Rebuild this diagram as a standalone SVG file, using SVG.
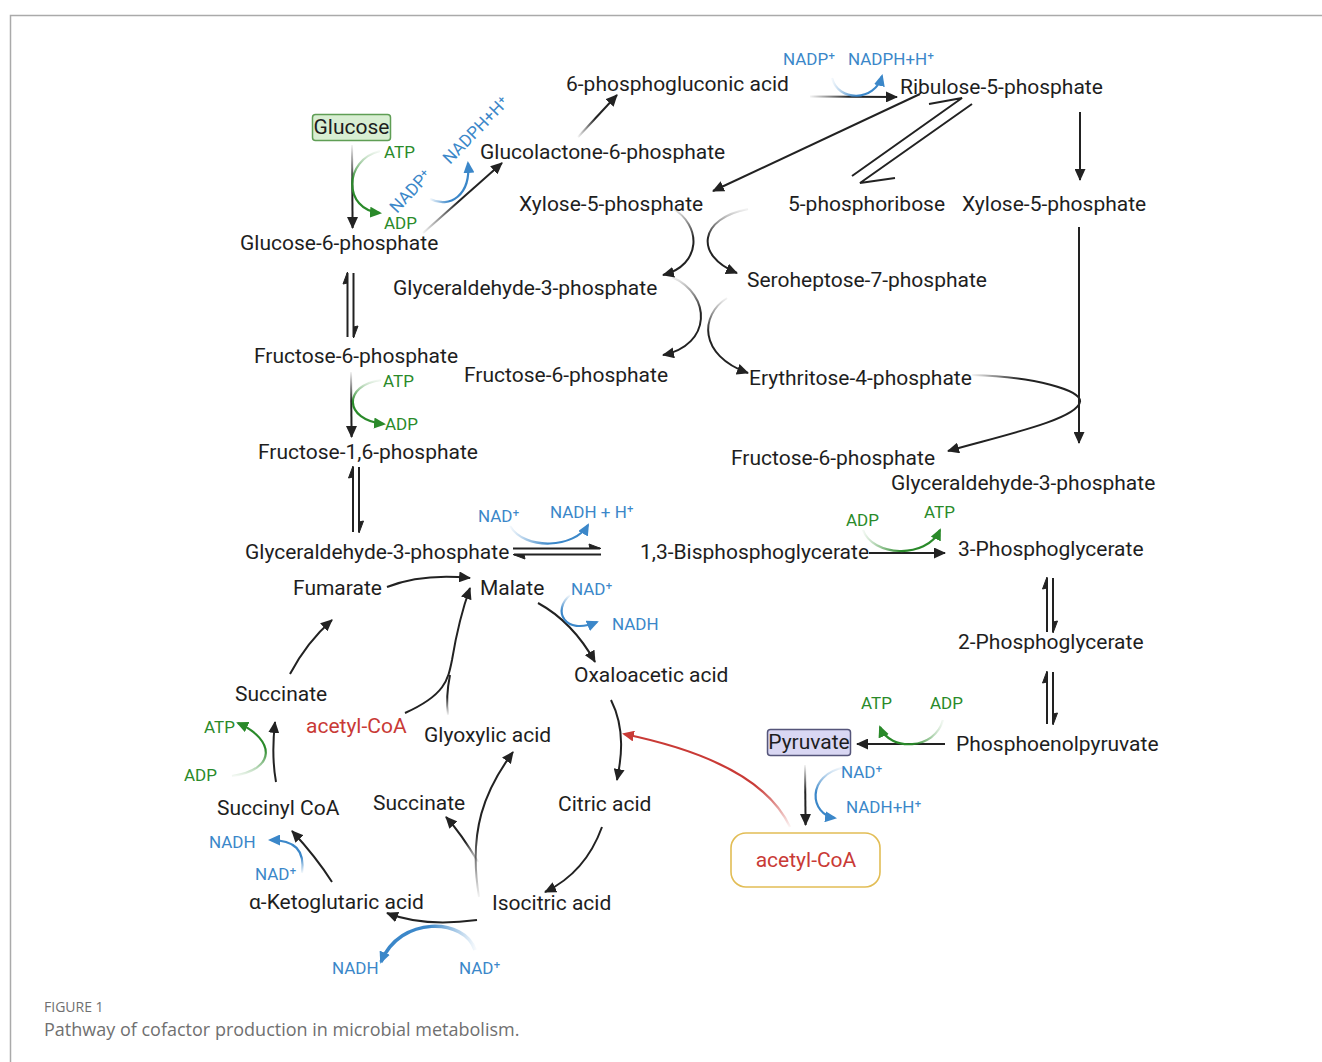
<svg xmlns="http://www.w3.org/2000/svg" width="1322" height="1062" viewBox="0 0 1322 1062">
<style>
.t{font-family:Roboto,"Liberation Sans",sans-serif;font-size:21px;fill:#1e1e1e}
.c{font-family:Roboto,"Noto Sans","DejaVu Sans",sans-serif;font-size:17px}
.g{fill:#2a8a2a}.b{fill:#3b87c9}.r{fill:#c93a36}
.k{fill:none;stroke-width:2}
.gs{fill:none;stroke-width:2.2}
.bs{fill:none;stroke-width:2.2}
.hp{fill:#222;stroke:#222;stroke-width:1}
.cap{font-family:"Open Sans","Liberation Sans",sans-serif;fill:#707070}
</style>
<defs>
<marker id="ak" markerUnits="userSpaceOnUse" markerWidth="13" markerHeight="11" refX="11" refY="5.5" orient="auto"><path d="M0,0 L12,5.5 L0,11 z" fill="#222"/></marker>
<marker id="ag" markerUnits="userSpaceOnUse" markerWidth="13" markerHeight="11" refX="10" refY="5.5" orient="auto"><path d="M0,0 L12,5.5 L0,11 z" fill="#2a8a2a"/></marker>
<marker id="ab" markerUnits="userSpaceOnUse" markerWidth="13" markerHeight="11" refX="10" refY="5.5" orient="auto"><path d="M0,0 L12,5.5 L0,11 z" fill="#3b87c9"/></marker>
<marker id="ar" markerUnits="userSpaceOnUse" markerWidth="13" markerHeight="11" refX="10" refY="5.5" orient="auto"><path d="M0,0 L12,5.5 L0,11 z" fill="#c93a36"/></marker>
<linearGradient id="kT" x1="0" y1="0" x2="0" y2="1"><stop offset="0" stop-color="#222" stop-opacity="0.05"/><stop offset="0.45" stop-color="#222"/></linearGradient>
<linearGradient id="kB" x1="0" y1="1" x2="0" y2="0"><stop offset="0" stop-color="#222" stop-opacity="0.05"/><stop offset="0.45" stop-color="#222"/></linearGradient>
<linearGradient id="kL" x1="0" y1="0" x2="1" y2="0"><stop offset="0" stop-color="#222" stop-opacity="0.05"/><stop offset="0.45" stop-color="#222"/></linearGradient>
<linearGradient id="gT" x1="0" y1="0" x2="0" y2="1"><stop offset="0" stop-color="#2a8a2a" stop-opacity="0.05"/><stop offset="0.5" stop-color="#2a8a2a"/></linearGradient>
<linearGradient id="gL" x1="0" y1="0" x2="1" y2="0"><stop offset="0" stop-color="#2a8a2a" stop-opacity="0.05"/><stop offset="0.5" stop-color="#2a8a2a"/></linearGradient>
<linearGradient id="gR" x1="1" y1="0" x2="0" y2="0"><stop offset="0" stop-color="#2a8a2a" stop-opacity="0.05"/><stop offset="0.5" stop-color="#2a8a2a"/></linearGradient>
<linearGradient id="gB" x1="0" y1="1" x2="0" y2="0"><stop offset="0" stop-color="#2a8a2a" stop-opacity="0.05"/><stop offset="0.5" stop-color="#2a8a2a"/></linearGradient>
<linearGradient id="bL" x1="0" y1="0" x2="1" y2="0"><stop offset="0" stop-color="#3b87c9" stop-opacity="0.05"/><stop offset="0.5" stop-color="#3b87c9"/></linearGradient>
<linearGradient id="bR" x1="1" y1="0" x2="0" y2="0"><stop offset="0" stop-color="#3b87c9" stop-opacity="0.05"/><stop offset="0.5" stop-color="#3b87c9"/></linearGradient>
<linearGradient id="bT" x1="0" y1="0" x2="0" y2="1"><stop offset="0" stop-color="#3b87c9" stop-opacity="0.05"/><stop offset="0.5" stop-color="#3b87c9"/></linearGradient>
<linearGradient id="bB" x1="0" y1="1" x2="0" y2="0"><stop offset="0" stop-color="#3b87c9" stop-opacity="0.05"/><stop offset="0.5" stop-color="#3b87c9"/></linearGradient>
<linearGradient id="rB" x1="0" y1="1" x2="0" y2="0"><stop offset="0" stop-color="#c93a36" stop-opacity="0.05"/><stop offset="0.45" stop-color="#c93a36"/></linearGradient>
</defs>
<rect width="1322" height="1062" fill="#fff"/>
<path d="M10.5 1062 V15.5 H1322" fill="none" stroke="#aaa" stroke-width="1.5"/>

<g id="connectors">
<path d="M352 145 L352.6 228" class="k" style="stroke:url(#kT)" marker-end="url(#ak)"/>
<path d="M423 233 L502 163" class="k" style="stroke:url(#kL)" marker-end="url(#ak)"/>
<path d="M578 137 L617 95" class="k" style="stroke:url(#kL)" marker-end="url(#ak)"/>
<path d="M810 96.5 L897 97" class="k" style="stroke:url(#kL)" marker-end="url(#ak)"/>
<path d="M920 94 L713 191" class="k" style="stroke:#222" marker-end="url(#ak)"/>
<path d="M852 176 L962 98 L929 104" class="k" style="stroke:#222"/>
<path d="M972 104 L860 183 L895 178" class="k" style="stroke:#222"/>
<path d="M1080 112 L1080 180" class="k" style="stroke:#222" marker-end="url(#ak)"/>
<path d="M1079 227 L1079 443" class="k" style="stroke:#222" marker-end="url(#ak)"/>
<path d="M972 375 C1035 377 1082 390 1080 402" class="k" style="stroke:url(#kL)"/>
<path d="M1080 402 C1076 420 1000 436 948 451" class="k" style="stroke:#222" marker-end="url(#ak)"/>
<path d="M672 208 C702 225 702 265 663 275" class="k" style="stroke:url(#kT)" marker-end="url(#ak)"/>
<path d="M748 209 C700 218 693 255 737 273" class="k" style="stroke:url(#kT)" marker-end="url(#ak)"/>
<path d="M672 277 C712 295 712 345 663 355" class="k" style="stroke:url(#kT)" marker-end="url(#ak)"/>
<path d="M727 298 C700 315 698 355 748 373" class="k" style="stroke:url(#kT)" marker-end="url(#ak)"/>
<path d="M347.5 337 V273" class="k" style="stroke:#222"/><path d="M347.5 272 L343 284 L347.5 283 z" class="hp"/>
<path d="M353.5 273 V337" class="k" style="stroke:#222"/><path d="M353.5 338 L358 326 L353.5 327 z" class="hp"/>
<path d="M353 532 V467" class="k" style="stroke:#222"/><path d="M353 466 L348.5 478 L353 477 z" class="hp"/>
<path d="M359 467 V532" class="k" style="stroke:#222"/><path d="M359 533 L363.5 521 L359 522 z" class="hp"/>
<path d="M513 548.5 H600" class="k" style="stroke:#222"/><path d="M601 548.5 L589 544 L590 548.5 z" class="hp"/>
<path d="M601 554.5 H514" class="k" style="stroke:#222"/><path d="M513 554.5 L525 559 L524 554.5 z" class="hp"/>
<path d="M1047 632 V578" class="k" style="stroke:#222"/><path d="M1047 577 L1042.5 589 L1047 588 z" class="hp"/>
<path d="M1053 578 V632" class="k" style="stroke:#222"/><path d="M1053 633 L1057.5 621 L1053 622 z" class="hp"/>
<path d="M1047 724 V672" class="k" style="stroke:#222"/><path d="M1047 671 L1042.5 683 L1047 682 z" class="hp"/>
<path d="M1053 672 V724" class="k" style="stroke:#222"/><path d="M1053 725 L1057.5 713 L1053 714 z" class="hp"/>
<path d="M351 372 L351.6 437" class="k" style="stroke:url(#kT)" marker-end="url(#ak)"/>
<path d="M869 553 H945" class="k" style="stroke:#222" marker-end="url(#ak)"/>
<path d="M945 744 H857" class="k" style="stroke:#222" marker-end="url(#ak)"/>
<path d="M805 765 L805.6 825" class="k" style="stroke:url(#kT)" marker-end="url(#ak)"/>
<path d="M790 827 Q760 762 624 734" fill="none" style="stroke:url(#rB)" stroke-width="2.2" marker-end="url(#ar)"/>
<path d="M611 700 C626 730 621 760 617 780" class="k" style="stroke:#222" marker-end="url(#ak)"/>
<path d="M602 827 C590 860 570 880 545 892" class="k" style="stroke:#222" marker-end="url(#ak)"/>
<path d="M477 920 C440 925 410 922 387 913" class="k" style="stroke:#222" marker-end="url(#ak)"/>
<path d="M332 882 C318 860 305 845 292 831" class="k" style="stroke:#222" marker-end="url(#ak)"/>
<path d="M276 782 C272 760 273 740 275 722" class="k" style="stroke:#222" marker-end="url(#ak)"/>
<path d="M290 674 C300 655 315 635 332 620" class="k" style="stroke:#222" marker-end="url(#ak)"/>
<path d="M478 862 C468 845 458 830 446 817" class="k" style="stroke:url(#kB)" marker-end="url(#ak)"/>
<path d="M479 897 C468 830 485 790 513 752" class="k" style="stroke:url(#kB)" marker-end="url(#ak)"/>
<path d="M448 715 C446 700 447 690 450 675" class="k" style="stroke:url(#kB)"/>
<path d="M405 713 C445 695 448 680 452 660 C457 630 462 610 470 588" class="k" style="stroke:#222" marker-end="url(#ak)"/>
<path d="M387 587 C410 578 440 575 470 578" class="k" style="stroke:#222" marker-end="url(#ak)"/>
<path d="M538 603 C560 615 580 635 595 662" class="k" style="stroke:#222" marker-end="url(#ak)"/>
<path d="M380 151 C343 160 343 210 380 213" class="gs" style="stroke:url(#gT)" marker-end="url(#ag)"/>
<path d="M381 380 C343 385 343 420 384 424" class="gs" style="stroke:url(#gT)" marker-end="url(#ag)"/>
<path d="M863 530 C872 556 926 560 940 530" class="gs" style="stroke:url(#gL)" marker-end="url(#ag)"/>
<path d="M943 720 C935 750 890 752 880 727" class="gs" style="stroke:url(#gR)" marker-end="url(#ag)"/>
<path d="M232 776 C276 770 276 740 238 723" class="gs" style="stroke:url(#gB)" marker-end="url(#ag)"/>
<path d="M430 199 C450 209 471 195 468 163" class="bs" style="stroke:url(#bL)" marker-end="url(#ab)"/>
<path d="M832 78 C838 102 875 102 882 76" class="bs" style="stroke:url(#bL)" marker-end="url(#ab)"/>
<path d="M510 526 C525 551 575 548 588 525" class="bs" style="stroke:url(#bL)" marker-end="url(#ab)"/>
<path d="M570 595 C552 610 564 636 597 622" class="bs" style="stroke:url(#bT)" marker-end="url(#ab)"/>
<path d="M845 767 C805 775 810 815 835 818" class="bs" style="stroke:url(#bT)" marker-end="url(#ab)"/>
<path d="M302 873 C305 850 295 840 270 840" class="bs" style="stroke:url(#bB)" marker-end="url(#ab)"/>
<path d="M475 950 C465 918 400 915 381 962" fill="none" style="stroke:url(#bR)" stroke-width="3.5" marker-end="url(#ab)"/>
</g>

<g id="glucose"><rect x="312.5" y="114.5" width="78" height="26" rx="3" fill="#d8eed2" stroke="#5f9e55" stroke-width="1.5"/><text class="t" x="351.5" y="134" text-anchor="middle">Glucose</text></g>
<g id="g6p"><text class="t" x="240" y="250">Glucose-6-phosphate</text></g>
<g id="glucolactone"><text class="t" x="480" y="159">Glucolactone-6-phosphate</text></g>
<g id="pga6"><text class="t" x="566" y="91">6-phosphogluconic acid</text></g>
<g id="ribulose"><text class="t" x="900" y="94">Ribulose-5-phosphate</text></g>
<g id="xylose1"><text class="t" x="519" y="211">Xylose-5-phosphate</text></g>
<g id="phosphoribose"><text class="t" x="788" y="211">5-phosphoribose</text></g>
<g id="xylose2"><text class="t" x="962" y="211">Xylose-5-phosphate</text></g>
<g id="g3p1"><text class="t" x="393" y="295">Glyceraldehyde-3-phosphate</text></g>
<g id="seroheptose"><text class="t" x="747" y="287">Seroheptose-7-phosphate</text></g>
<g id="f6p1"><text class="t" x="254" y="363">Fructose-6-phosphate</text></g>
<g id="f6p2"><text class="t" x="464" y="382">Fructose-6-phosphate</text></g>
<g id="erythritose"><text class="t" x="749" y="385">Erythritose-4-phosphate</text></g>
<g id="f16p"><text class="t" x="258" y="459">Fructose-1,6-phosphate</text></g>
<g id="f6p3"><text class="t" x="731" y="465">Fructose-6-phosphate</text></g>
<g id="g3p2"><text class="t" x="891" y="490">Glyceraldehyde-3-phosphate</text></g>
<g id="g3p3"><text class="t" x="245" y="559">Glyceraldehyde-3-phosphate</text></g>
<g id="bpg"><text class="t" x="640" y="559">1,3-Bisphosphoglycerate</text></g>
<g id="pg3"><text class="t" x="958" y="556">3-Phosphoglycerate</text></g>
<g id="pg2"><text class="t" x="958" y="649">2-Phosphoglycerate</text></g>
<g id="pep"><text class="t" x="956" y="751">Phosphoenolpyruvate</text></g>
<g id="pyruvate"><rect x="767.5" y="729.5" width="83" height="26" rx="3" fill="#d9d7f3" stroke="#55557a" stroke-width="1.5"/><text class="t" x="809" y="749" text-anchor="middle">Pyruvate</text></g>
<g id="acetylcoa-box"><rect x="731" y="833" width="149" height="54" rx="15" fill="#fff" stroke="#e2bd55" stroke-width="1.6"/><text class="t r" x="806" y="867" text-anchor="middle">acetyl-CoA</text></g>
<g id="fumarate"><text class="t" x="293" y="595">Fumarate</text></g>
<g id="malate"><text class="t" x="480" y="595">Malate</text></g>
<g id="oxaloacetic"><text class="t" x="574" y="682">Oxaloacetic acid</text></g>
<g id="succinate1"><text class="t" x="235" y="701">Succinate</text></g>
<g id="acetylcoa"><text class="t r" x="306" y="733">acetyl-CoA</text></g>
<g id="glyoxylic"><text class="t" x="424" y="742">Glyoxylic acid</text></g>
<g id="succinylcoa"><text class="t" x="217" y="815">Succinyl CoA</text></g>
<g id="succinate2"><text class="t" x="373" y="810">Succinate</text></g>
<g id="citric"><text class="t" x="558" y="811">Citric acid</text></g>
<g id="ketoglutaric"><text class="t" x="249" y="909">α-Ketoglutaric acid</text></g>
<g id="isocitric"><text class="t" x="492" y="910">Isocitric acid</text></g>

<g id="cofactors">
<text class="c g" x="384" y="158">ATP</text>
<text class="c g" x="384" y="229">ADP</text>
<text class="c b" transform="translate(397,214) rotate(-47)">NADP⁺</text>
<text class="c b" transform="translate(450,165) rotate(-46)">NADPH+H⁺</text>
<text class="c b" x="783" y="65">NADP⁺</text>
<text class="c b" x="848" y="65">NADPH+H⁺</text>
<text class="c g" x="383" y="387">ATP</text>
<text class="c g" x="385" y="430">ADP</text>
<text class="c b" x="478" y="522">NAD⁺</text>
<text class="c b" x="550" y="518">NADH + H⁺</text>
<text class="c g" x="846" y="526">ADP</text>
<text class="c g" x="924" y="518">ATP</text>
<text class="c b" x="571" y="595">NAD⁺</text>
<text class="c b" x="612" y="630">NADH</text>
<text class="c g" x="861" y="709">ATP</text>
<text class="c g" x="930" y="709">ADP</text>
<text class="c b" x="841" y="778">NAD⁺</text>
<text class="c b" x="846" y="813">NADH+H⁺</text>
<text class="c g" x="204" y="733">ATP</text>
<text class="c g" x="184" y="781">ADP</text>
<text class="c b" x="209" y="848">NADH</text>
<text class="c b" x="255" y="880">NAD⁺</text>
<text class="c b" x="332" y="974">NADH</text>
<text class="c b" x="459" y="974">NAD⁺</text>
</g>

<g id="caption">
<text class="cap" x="44" y="1012" font-size="14">FIGURE 1</text>
<text class="cap" x="44" y="1036" font-size="18">Pathway of cofactor production in microbial metabolism.</text>
</g>
</svg>
